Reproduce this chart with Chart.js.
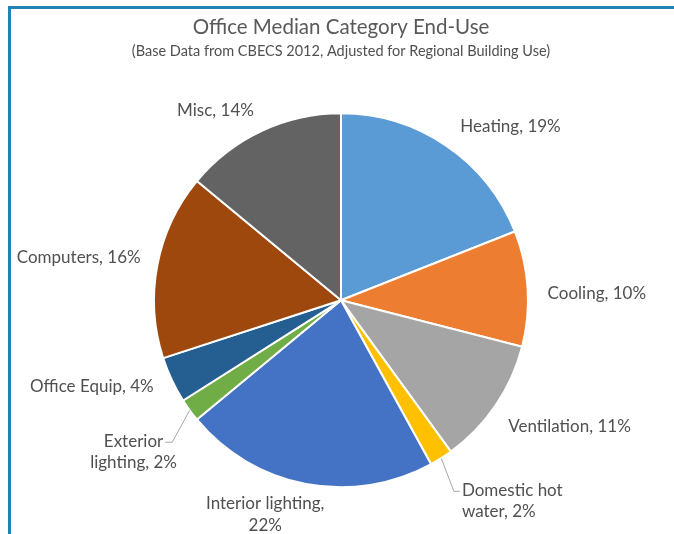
<!DOCTYPE html>
<html>
<head>
<meta charset="utf-8">
<script src="https://cdn.jsdelivr.net/npm/chart.js@4.4.1/dist/chart.umd.min.js"></script>
<style>
  html, body { margin: 0; padding: 0; background: #fff; }
  #wrap { position: relative; width: 674px; height: 534px; overflow: hidden; }
  #frame { position: absolute; left: 8px; top: 6px; width: 700px; height: 600px;
           border-left: 3px solid #2381b3; border-top: 3px solid #2381b3; box-sizing: border-box; }
  canvas { position: absolute; left: 0; top: 0; }
</style>
</head>
<body>
<div id="wrap">
  <div id="frame"></div>
  <canvas id="endUseChart" width="674" height="534"></canvas>
</div>
<script>
// data
const categories = ['Heating', 'Cooling', 'Ventilation', 'Domestic hot water', 'Interior lighting',
                    'Exterior lighting', 'Office Equip', 'Computers', 'Misc'];
const shares = [19, 10, 11, 2, 22, 2, 4, 16, 14];
const labelLines = [
    ['Heating, 19%'],
    ['Cooling, 10%'],
    ['Ventilation, 11%'],
    ['Domestic hot', 'water, 2%'],
    ['Interior lighting,', '22%'],
    ['Exterior', 'lighting, 2%'],
    ['Office Equip, 4%'],
    ['Computers, 16%'],
    ['Misc, 14%']
];
const sliceColors = ['#5B9BD5', '#ED7D31', '#A5A5A5', '#FFC000', '#4472C4',
                     '#70AD47', '#255E91', '#9E480E', '#636363'];
const chartTitle = 'Office Median Category End-Use';
const chartSubtitle = '(Base Data from CBECS 2012, Adjusted for Regional Building Use)';

// label nudges (Excel "best fit" moves a few labels off the radial spot)
const labelNudge = [
    { dx: 3, dy: -3 },
    { dx: 0, dy: 6 },
    { dx: -4, dy: 10 },
    { dx: 10, dy: 26, leader: true },
    { dx: -37, dy: 11, align: 'center' },
    { dx: -40, dy: 30, align: 'center', leader: true },
    { dx: 0, dy: -2 },
    { dx: 3, dy: -4 },
    { dx: 1, dy: -2 }
];

const FONT = 'Lato, "Open Sans", sans-serif';
const LINE_H = 21.5;

const sliceLabels = {
    id: 'sliceLabels',
    afterDatasetsDraw(chart) {
        const ctx = chart.ctx;
        const meta = chart.getDatasetMeta(0);
        ctx.save();

        // subtitle (drawn by hand, sits between title and pie)
        ctx.font = '14.5px ' + FONT;
        ctx.fillStyle = '#505050';
        ctx.textAlign = 'center';
        ctx.textBaseline = 'middle';
        ctx.fillText(chartSubtitle, (chart.chartArea.left + chart.chartArea.right) / 2, chart.chartArea.top - 60);

        ctx.font = '17px ' + FONT;
        meta.data.forEach((arc, i) => {
            const p = arc.getProps(['x', 'y', 'startAngle', 'endAngle', 'outerRadius'], true);
            const mid = (p.startAngle + p.endAngle) / 2;
            const cos = Math.cos(mid), sin = Math.sin(mid);
            const nudge = labelNudge[i];
            const r = p.outerRadius + 20;
            const ax = p.x + cos * r + nudge.dx;
            const ay = p.y + sin * r + nudge.dy;
            let align = nudge.align || (cos > 0.2 ? 'left' : cos < -0.2 ? 'right' : 'center');
            ctx.textAlign = align;
            const lines = labelLines[i];
            const top = ay - (lines.length - 1) * LINE_H / 2;
            lines.forEach((t, k) => ctx.fillText(t, ax, top + k * LINE_H));

            if (nudge.leader) {
                const w = ctx.measureText(lines[0]).width;
                const ex = p.x + cos * p.outerRadius;
                const ey = p.y + sin * p.outerRadius;
                let nearX;
                if (cos > 0) {
                    nearX = align === 'left' ? ax : ax - w / 2;
                    nearX -= 2;
                } else {
                    nearX = align === 'right' ? ax : ax + w / 2;
                    nearX += 2;
                }
                const elbowX = nearX + (cos > 0 ? -6 : 7);
                ctx.beginPath();
                ctx.strokeStyle = '#A6A6A6';
                ctx.lineWidth = 1;
                ctx.moveTo(ex, ey);
                ctx.lineTo(elbowX, top + 1);
                ctx.lineTo(nearX, top + 1);
                ctx.stroke();
            }
        });
        ctx.restore();
    }
};

new Chart(document.getElementById('endUseChart'), {
    type: 'pie',
    data: {
        labels: categories,
        datasets: [{
            data: shares,
            backgroundColor: sliceColors,
            borderColor: '#fff',
            borderWidth: 2
        }]
    },
    options: {
        responsive: false,
        animation: false,
        layout: { padding: { left: 153, right: 145, top: 0, bottom: 45 } },
        plugins: {
            legend: { display: false },
            tooltip: { enabled: false },
            title: {
                display: true,
                text: chartTitle,
                color: '#595959',
                font: { family: FONT, size: 20.5, weight: 'normal' },
                padding: { top: 15, bottom: 72 }
            }
        }
    },
    plugins: [sliceLabels]
});
</script>
</body>
</html>
